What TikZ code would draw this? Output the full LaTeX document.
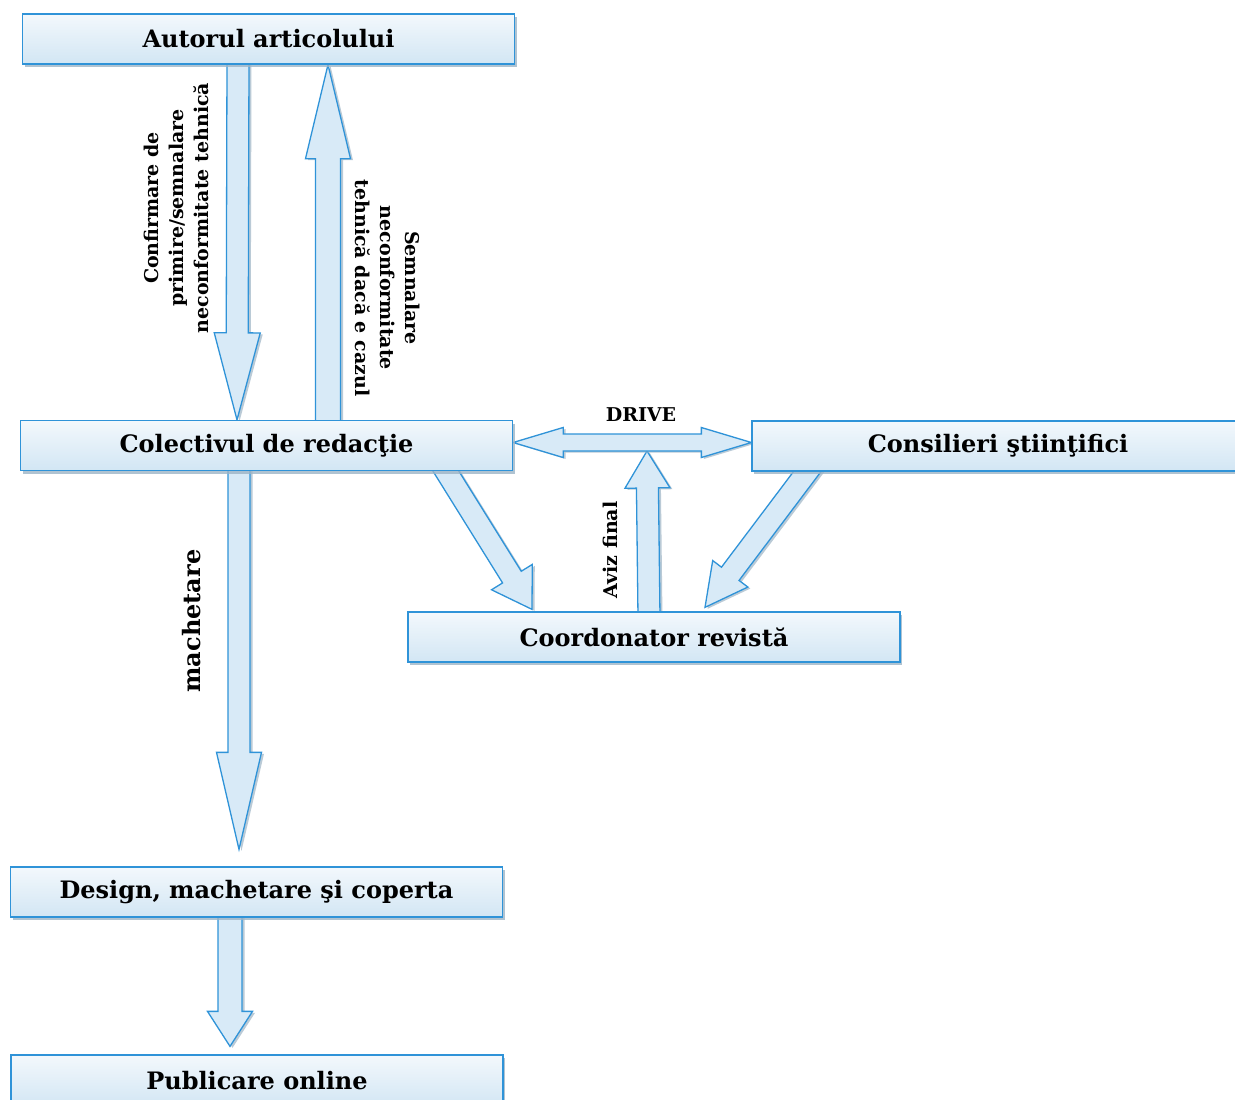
\documentclass[tikz,border=0pt]{standalone}
\usepackage{fontspec}
\setmainfont{DejaVu Serif}
\usetikzlibrary{calc,shadows}
\pgfdeclarelayer{background}
\pgfsetlayers{background,main}
\definecolor{bord}{HTML}{2F93D8}
\definecolor{boxtop}{HTML}{F3F8FC}
\definecolor{boxbot}{HTML}{D2E6F4}
\definecolor{arrfill}{HTML}{D8EAF7}
\definecolor{shad}{HTML}{9DB4C6}
\tikzset{
 box/.style={rectangle, draw=bord, line width=1.3pt, top color=boxtop, bottom color=boxbot,
   minimum width=492pt, minimum height=50pt, inner sep=0pt,
   font=\fontsize{24}{28}\selectfont\bfseries, text=black,
   drop shadow={shadow xshift=2pt, shadow yshift=-3pt, fill=shad, opacity=0.8}},
 lbl/.style={font=\fontsize{19}{25}\selectfont\bfseries, align=center, inner sep=0pt, text=black},
 blk/.style={draw=bord, line width=1.3pt, fill=arrfill, line join=miter,
   preaction={fill=shad, opacity=0.7, transform canvas={shift={(2.5pt,-1.5pt)}}}},
}
\newcommand\blockarrow[5]{%
 \coordinate (hb) at ($(#2)!#5pt!(#1)$);
 \path[blk] ($(#1)!#3pt!90:(#2)$) -- ($(hb)!#3pt!90:(#2)$) -- ($(hb)!#4pt!90:(#2)$) -- (#2)
   -- ($(hb)!#4pt!-90:(#2)$) -- ($(hb)!#3pt!-90:(#2)$) -- ($(#1)!#3pt!-90:(#2)$) -- cycle;
}
\newcommand\doublearrow[5]{%
 \coordinate (hba) at ($(#1)!#5pt!(#2)$);
 \coordinate (hbb) at ($(#2)!#5pt!(#1)$);
 \path[blk] (#1) -- ($(hba)!#4pt!90:(#2)$) -- ($(hba)!#3pt!90:(#2)$) -- ($(hbb)!#3pt!-90:(#1)$)
   -- ($(hbb)!#4pt!-90:(#1)$) -- (#2) -- ($(hbb)!#4pt!90:(#1)$) -- ($(hbb)!#3pt!90:(#1)$)
   -- ($(hba)!#3pt!-90:(#2)$) -- ($(hba)!#4pt!-90:(#2)$) -- cycle;
}
\begin{document}
\begin{tikzpicture}[x=1pt,y=-1pt]
\useasboundingbox (0,0) rectangle (1235,1100);
% boxes
\node[box] (A) at (268.5,39) {Autorul articolului};
\node[box] (C) at (266.5,445.5) {Colectivul de redacţie};
\node[box] (K) at (998,446) {Consilieri ştiinţifici};
\node[box] (R) at (654,637) {Coordonator revistă};
\node[box] (D) at (256.5,892) {Design, machetare şi coperta};
\node[box, minimum height=52pt] (P) at (257,1081) {Publicare online};
% labels
\node[lbl, rotate=90] (l1) at (176,208) {Confirmare de\\primire/semnalare\\neconformitate tehnică};
\node[lbl, rotate=-90] (l2) at (387.5,288) {Semnalare\\neconformitate\\tehnică dacă e cazul};
\node[lbl, rotate=90, font=\fontsize{24}{28}\selectfont\bfseries] (l3) at (192,621) {machetare};
\node[lbl] (l4) at (641,415) {DRIVE};
\node[lbl, rotate=90] (l5) at (610,550) {Aviz final};
% arrow end points
\coordinate (a1s) at ([xshift=-30.5pt,yshift=5pt]A.south);
\coordinate (a1e) at ([xshift=-29.5pt]C.north);
\coordinate (a2s) at ([xshift=61.5pt,yshift=-5pt]C.north);
\coordinate (a2e) at ([xshift=59.5pt]A.south);
\coordinate (a3s) at ([xshift=-27.5pt,yshift=5pt]C.south);
\coordinate (a3e) at ([xshift=-17.5pt,yshift=17pt]D.north);
\coordinate (a4s) at ([xshift=-26.5pt,yshift=5pt]D.south);
\coordinate (a4e) at ([xshift=-27pt,yshift=8pt]P.north);
\coordinate (drs) at ([yshift=3pt]C.east);
\coordinate (dre) at ([yshift=3.5pt]K.west);
\coordinate (avs) at ([xshift=-5pt,yshift=-5pt]R.north);
\coordinate (avtip) at (647,451);
\coordinate (d1s) at ([xshift=173.5pt,yshift=9.5pt]C.south);
\coordinate (d1e) at ([xshift=-122pt,yshift=2pt]R.north);
\coordinate (d2s) at ([xshift=-184pt,yshift=9pt]K.south);
\coordinate (d2e) at ([xshift=51pt,yshift=4pt]R.north);
\begin{pgfonlayer}{background}
\fill[white] (0,0) rectangle (1235,1100);
\blockarrow{a1s}{a1e}{11}{23}{87}
\blockarrow{a2s}{a2e}{12.5}{22.5}{94}
\blockarrow{a3s}{a3e}{11}{22.5}{97}
\blockarrow{a4s}{a4e}{12}{22.5}{35}
\blockarrow{avs}{avtip}{11}{22.5}{37}
\doublearrow{drs}{dre}{8.5}{15}{50}
\blockarrow{d1s}{d1e}{11}{24}{38}
\blockarrow{d2s}{d2e}{11}{22}{42}
\end{pgfonlayer}
\end{tikzpicture}
\end{document}
